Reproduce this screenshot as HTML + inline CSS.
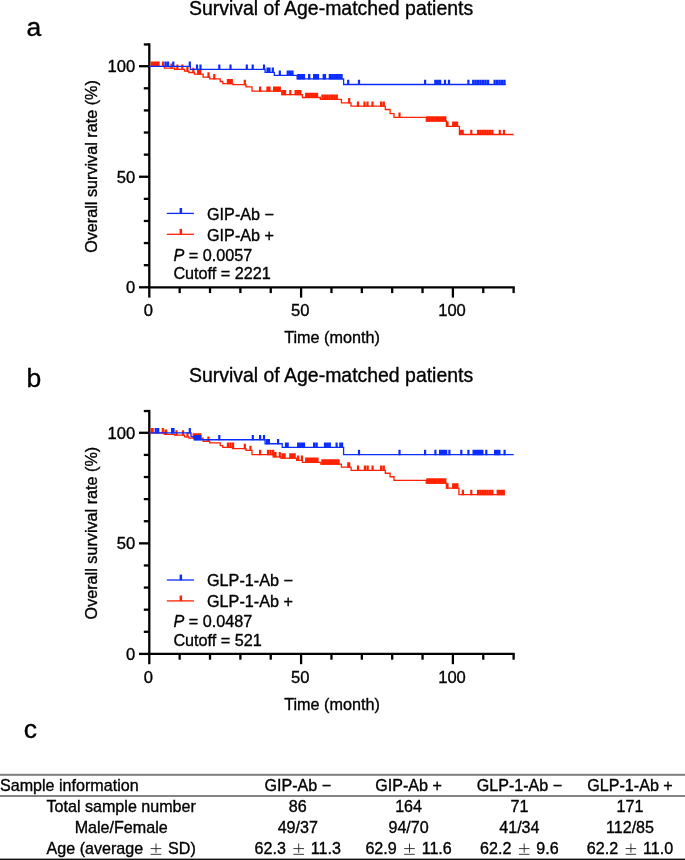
<!DOCTYPE html>
<html><head><meta charset="utf-8"><style>
html,body{margin:0;padding:0;background:#fff;}
body{width:685px;height:860px;overflow:hidden;}
svg{display:block;font-family:"Liberation Sans", sans-serif;}
text{fill:#000;stroke:#000;stroke-width:0.35px;}
</style></head><body>
<svg width="685" height="860" viewBox="0 0 685 860">
<defs><filter id="gs" x="0" y="0" width="685" height="860" filterUnits="userSpaceOnUse"><feColorMatrix type="saturate" values="0"/></filter></defs>
<line x1="149.3" y1="43.28999999999998" x2="149.3" y2="297.6" stroke="#000" stroke-width="2.3" fill="none"/>
<line x1="139.0" y1="287.3" x2="149.3" y2="287.3" stroke="#000" stroke-width="2.3" fill="none"/>
<line x1="143.8" y1="265.19" x2="149.3" y2="265.19" stroke="#000" stroke-width="2.3" fill="none"/>
<line x1="143.8" y1="243.08" x2="149.3" y2="243.08" stroke="#000" stroke-width="2.3" fill="none"/>
<line x1="143.8" y1="220.97" x2="149.3" y2="220.97" stroke="#000" stroke-width="2.3" fill="none"/>
<line x1="143.8" y1="198.86" x2="149.3" y2="198.86" stroke="#000" stroke-width="2.3" fill="none"/>
<line x1="139.0" y1="176.75" x2="149.3" y2="176.75" stroke="#000" stroke-width="2.3" fill="none"/>
<line x1="143.8" y1="154.64" x2="149.3" y2="154.64" stroke="#000" stroke-width="2.3" fill="none"/>
<line x1="143.8" y1="132.53" x2="149.3" y2="132.53" stroke="#000" stroke-width="2.3" fill="none"/>
<line x1="143.8" y1="110.41999999999999" x2="149.3" y2="110.41999999999999" stroke="#000" stroke-width="2.3" fill="none"/>
<line x1="143.8" y1="88.30999999999997" x2="149.3" y2="88.30999999999997" stroke="#000" stroke-width="2.3" fill="none"/>
<line x1="139.0" y1="66.19999999999999" x2="149.3" y2="66.19999999999999" stroke="#000" stroke-width="2.3" fill="none"/>
<line x1="143.8" y1="44.439999999999976" x2="149.3" y2="44.439999999999976" stroke="#000" stroke-width="2.3" fill="none"/>
<line x1="149.3" y1="287.3" x2="514.72" y2="287.3" stroke="#000" stroke-width="2.3" fill="none"/>
<line x1="179.66000000000003" y1="287.3" x2="179.66000000000003" y2="293.1" stroke="#000" stroke-width="2.3" fill="none"/>
<line x1="210.02" y1="287.3" x2="210.02" y2="293.1" stroke="#000" stroke-width="2.3" fill="none"/>
<line x1="240.38" y1="287.3" x2="240.38" y2="293.1" stroke="#000" stroke-width="2.3" fill="none"/>
<line x1="270.74" y1="287.3" x2="270.74" y2="293.1" stroke="#000" stroke-width="2.3" fill="none"/>
<line x1="301.1" y1="287.3" x2="301.1" y2="297.6" stroke="#000" stroke-width="2.3" fill="none"/>
<line x1="331.46000000000004" y1="287.3" x2="331.46000000000004" y2="293.1" stroke="#000" stroke-width="2.3" fill="none"/>
<line x1="361.82000000000005" y1="287.3" x2="361.82000000000005" y2="293.1" stroke="#000" stroke-width="2.3" fill="none"/>
<line x1="392.18" y1="287.3" x2="392.18" y2="293.1" stroke="#000" stroke-width="2.3" fill="none"/>
<line x1="422.54" y1="287.3" x2="422.54" y2="293.1" stroke="#000" stroke-width="2.3" fill="none"/>
<line x1="452.90000000000003" y1="287.3" x2="452.90000000000003" y2="297.6" stroke="#000" stroke-width="2.3" fill="none"/>
<line x1="483.26" y1="287.3" x2="483.26" y2="293.1" stroke="#000" stroke-width="2.3" fill="none"/>
<line x1="513.62" y1="287.3" x2="513.62" y2="293.1" stroke="#000" stroke-width="2.3" fill="none"/>
<line x1="166.8" y1="213.4" x2="193.9" y2="213.4" stroke="#0a2cff" stroke-width="1.3"/>
<rect x="179.6" y="208.00" width="2.5" height="5.6" fill="#0a2cff"/>
<line x1="166.8" y1="234.3" x2="193.9" y2="234.3" stroke="#ff2200" stroke-width="1.3"/>
<rect x="179.6" y="228.90" width="2.5" height="5.6" fill="#ff2200"/>
<path d="M149.5,66.4 H164.4 V68.18 H174.6 V69.28 H184.5 V71.08 H188.9 V72.48 H194.4 V74.08 H203.1 V77.08 H209.7 V78.88 H220.2 V81.48 H222.8 V83.68 H232.9 V84.58 H246 V86.78 H252 V91.18 H281.8 V94.68 H302.4 V97.48 H320.4 V99.38 H341.4 V102.88 H351 V106.18 H385.3 V109.48 H390.1 V113.58 H394 V117.28 H426.3 V120.98 H446.4 V126.28 H459.4 V134.48 H513.7" stroke="#ff2200" stroke-width="1.3" fill="none"/>
<path d="M150.60,61.60H152.90V67.00H150.60ZM152.87,61.60H155.17V67.00H152.87ZM155.13,61.60H157.43V67.00H155.13ZM157.40,61.60H159.70V67.00H157.40ZM161.90,61.60H164.10V67.00H161.90ZM170.40,63.38H172.60V68.78H170.40ZM176.30,64.48H178.50V69.88H176.30ZM181.20,64.48H183.40V69.88H181.20ZM186.30,66.28H188.50V71.68H186.30ZM192.20,67.68H194.40V73.08H192.20ZM197.00,69.28H199.30V74.68H197.00ZM199.10,69.28H201.40V74.68H199.10ZM207.40,72.28H209.60V77.68H207.40ZM213.20,74.08H215.40V79.48H213.20ZM226.80,78.88H229.10V84.28H226.80ZM228.70,78.88H231.00V84.28H228.70ZM230.60,78.88H232.90V84.28H230.60ZM243.70,79.78H245.90V85.18H243.70ZM259.00,86.38H261.20V91.78H259.00ZM266.40,86.38H268.60V91.78H266.40ZM268.40,86.38H270.60V91.78H268.40ZM273.00,86.38H275.30V91.78H273.00ZM274.87,86.38H277.17V91.78H274.87ZM276.73,86.38H279.03V91.78H276.73ZM278.60,86.38H280.90V91.78H278.60ZM281.80,89.88H284.10V95.28H281.80ZM283.90,89.88H286.20V95.28H283.90ZM289.20,89.88H291.40V95.28H289.20ZM294.50,89.88H296.80V95.28H294.50ZM296.85,89.88H299.15V95.28H296.85ZM299.20,89.88H301.50V95.28H299.20ZM305.10,92.68H307.40V98.08H305.10ZM307.26,92.68H309.56V98.08H307.26ZM309.42,92.68H311.72V98.08H309.42ZM311.58,92.68H313.88V98.08H311.58ZM313.74,92.68H316.04V98.08H313.74ZM315.90,92.68H318.20V98.08H315.90ZM321.30,94.58H323.60V99.98H321.30ZM323.68,94.58H325.98V99.98H323.68ZM326.07,94.58H328.37V99.98H326.07ZM328.45,94.58H330.75V99.98H328.45ZM330.83,94.58H333.13V99.98H330.83ZM333.22,94.58H335.52V99.98H333.22ZM335.60,94.58H337.90V99.98H335.60ZM348.10,98.08H350.30V103.48H348.10ZM356.90,101.38H359.10V106.78H356.90ZM363.40,101.38H365.60V106.78H363.40ZM366.40,101.38H368.60V106.78H366.40ZM371.40,101.38H373.60V106.78H371.40ZM380.00,101.38H382.30V106.78H380.00ZM382.60,101.38H384.90V106.78H382.60ZM398.40,112.48H400.60V117.88H398.40ZM426.30,116.18H428.60V121.58H426.30ZM428.53,116.18H430.82V121.58H428.53ZM430.75,116.18H433.05V121.58H430.75ZM432.98,116.18H435.27V121.58H432.98ZM435.20,116.18H437.50V121.58H435.20ZM437.43,116.18H439.72V121.58H437.43ZM439.65,116.18H441.95V121.58H439.65ZM441.88,116.18H444.17V121.58H441.88ZM444.10,116.18H446.40V121.58H444.10ZM446.40,121.48H448.60V126.88H446.40ZM452.10,121.48H454.40V126.88H452.10ZM454.00,121.48H456.30V126.88H454.00ZM455.90,121.48H458.20V126.88H455.90ZM459.40,129.68H461.70V135.08H459.40ZM461.50,129.68H463.80V135.08H461.50ZM470.20,129.68H472.40V135.08H470.20ZM476.90,129.68H479.20V135.08H476.90ZM479.28,129.68H481.58V135.08H479.28ZM481.67,129.68H483.97V135.08H481.67ZM484.05,129.68H486.35V135.08H484.05ZM486.43,129.68H488.73V135.08H486.43ZM488.82,129.68H491.12V135.08H488.82ZM491.20,129.68H493.50V135.08H491.20ZM498.70,129.68H500.90V135.08H498.70ZM502.90,129.68H505.10V135.08H502.90Z" fill="#ff2200"/>
<path d="M149.5,66.4 H190.3 V69.28 H265.1 V72.38 H274.3 V75.38 H297.1 V78.88 H343.6 V84.48 H505.6" stroke="#0a2cff" stroke-width="1.3" fill="none"/>
<path d="M164.40,61.60H166.70V67.00H164.40ZM166.90,61.60H169.20V67.00H166.90ZM172.20,61.60H174.40V67.00H172.20ZM188.70,61.60H190.90V67.00H188.70ZM195.90,64.48H198.10V69.88H195.90ZM199.40,64.48H201.60V69.88H199.40ZM218.20,64.48H220.40V69.88H218.20ZM229.40,64.48H231.60V69.88H229.40ZM245.70,64.48H247.90V69.88H245.70ZM251.60,64.48H253.80V69.88H251.60ZM262.90,64.48H265.10V69.88H262.90ZM266.40,67.58H268.60V72.98H266.40ZM268.40,67.58H270.60V72.98H268.40ZM271.70,67.58H273.90V72.98H271.70ZM278.70,70.58H280.90V75.98H278.70ZM286.60,70.58H288.90V75.98H286.60ZM288.95,70.58H291.25V75.98H288.95ZM291.30,70.58H293.60V75.98H291.30ZM297.20,74.08H299.50V79.48H297.20ZM299.07,74.08H301.37V79.48H299.07ZM300.93,74.08H303.23V79.48H300.93ZM302.80,74.08H305.10V79.48H302.80ZM308.10,74.08H310.40V79.48H308.10ZM308.00,74.08H310.30V79.48H308.00ZM313.00,74.08H315.30V79.48H313.00ZM314.90,74.08H317.20V79.48H314.90ZM316.80,74.08H319.10V79.48H316.80ZM322.60,74.08H324.90V79.48H322.60ZM323.80,74.08H326.10V79.48H323.80ZM328.70,74.08H331.00V79.48H328.70ZM331.04,74.08H333.34V79.48H331.04ZM333.38,74.08H335.68V79.48H333.38ZM335.72,74.08H338.02V79.48H335.72ZM338.06,74.08H340.36V79.48H338.06ZM340.40,74.08H342.70V79.48H340.40ZM347.10,79.68H349.30V85.08H347.10ZM357.90,79.68H360.10V85.08H357.90ZM424.00,79.68H426.20V85.08H424.00ZM434.20,79.68H436.50V85.08H434.20ZM436.55,79.68H438.85V85.08H436.55ZM438.90,79.68H441.20V85.08H438.90ZM443.90,79.68H446.10V85.08H443.90ZM447.90,79.68H450.10V85.08H447.90ZM467.30,79.68H469.50V85.08H467.30ZM472.10,79.68H474.40V85.08H472.10ZM474.57,79.68H476.87V85.08H474.57ZM477.03,79.68H479.33V85.08H477.03ZM479.50,79.68H481.80V85.08H479.50ZM481.97,79.68H484.27V85.08H481.97ZM484.43,79.68H486.73V85.08H484.43ZM486.90,79.68H489.20V85.08H486.90ZM493.50,79.68H495.80V85.08H493.50ZM495.95,79.68H498.25V85.08H495.95ZM498.40,79.68H500.70V85.08H498.40ZM500.85,79.68H503.15V85.08H500.85ZM503.30,79.68H505.60V85.08H503.30Z" fill="#0a2cff"/>
<line x1="149.3" y1="409.89" x2="149.3" y2="664.2" stroke="#000" stroke-width="2.3" fill="none"/>
<line x1="139.0" y1="653.9000000000001" x2="149.3" y2="653.9000000000001" stroke="#000" stroke-width="2.3" fill="none"/>
<line x1="143.8" y1="631.7900000000001" x2="149.3" y2="631.7900000000001" stroke="#000" stroke-width="2.3" fill="none"/>
<line x1="143.8" y1="609.6800000000001" x2="149.3" y2="609.6800000000001" stroke="#000" stroke-width="2.3" fill="none"/>
<line x1="143.8" y1="587.57" x2="149.3" y2="587.57" stroke="#000" stroke-width="2.3" fill="none"/>
<line x1="143.8" y1="565.46" x2="149.3" y2="565.46" stroke="#000" stroke-width="2.3" fill="none"/>
<line x1="139.0" y1="543.35" x2="149.3" y2="543.35" stroke="#000" stroke-width="2.3" fill="none"/>
<line x1="143.8" y1="521.24" x2="149.3" y2="521.24" stroke="#000" stroke-width="2.3" fill="none"/>
<line x1="143.8" y1="499.13000000000005" x2="149.3" y2="499.13000000000005" stroke="#000" stroke-width="2.3" fill="none"/>
<line x1="143.8" y1="477.02000000000004" x2="149.3" y2="477.02000000000004" stroke="#000" stroke-width="2.3" fill="none"/>
<line x1="143.8" y1="454.91" x2="149.3" y2="454.91" stroke="#000" stroke-width="2.3" fill="none"/>
<line x1="139.0" y1="432.8" x2="149.3" y2="432.8" stroke="#000" stroke-width="2.3" fill="none"/>
<line x1="143.8" y1="411.04" x2="149.3" y2="411.04" stroke="#000" stroke-width="2.3" fill="none"/>
<line x1="149.3" y1="653.9000000000001" x2="514.72" y2="653.9000000000001" stroke="#000" stroke-width="2.3" fill="none"/>
<line x1="179.66000000000003" y1="653.9000000000001" x2="179.66000000000003" y2="659.7" stroke="#000" stroke-width="2.3" fill="none"/>
<line x1="210.02" y1="653.9000000000001" x2="210.02" y2="659.7" stroke="#000" stroke-width="2.3" fill="none"/>
<line x1="240.38" y1="653.9000000000001" x2="240.38" y2="659.7" stroke="#000" stroke-width="2.3" fill="none"/>
<line x1="270.74" y1="653.9000000000001" x2="270.74" y2="659.7" stroke="#000" stroke-width="2.3" fill="none"/>
<line x1="301.1" y1="653.9000000000001" x2="301.1" y2="664.2" stroke="#000" stroke-width="2.3" fill="none"/>
<line x1="331.46000000000004" y1="653.9000000000001" x2="331.46000000000004" y2="659.7" stroke="#000" stroke-width="2.3" fill="none"/>
<line x1="361.82000000000005" y1="653.9000000000001" x2="361.82000000000005" y2="659.7" stroke="#000" stroke-width="2.3" fill="none"/>
<line x1="392.18" y1="653.9000000000001" x2="392.18" y2="659.7" stroke="#000" stroke-width="2.3" fill="none"/>
<line x1="422.54" y1="653.9000000000001" x2="422.54" y2="659.7" stroke="#000" stroke-width="2.3" fill="none"/>
<line x1="452.90000000000003" y1="653.9000000000001" x2="452.90000000000003" y2="664.2" stroke="#000" stroke-width="2.3" fill="none"/>
<line x1="483.26" y1="653.9000000000001" x2="483.26" y2="659.7" stroke="#000" stroke-width="2.3" fill="none"/>
<line x1="513.62" y1="653.9000000000001" x2="513.62" y2="659.7" stroke="#000" stroke-width="2.3" fill="none"/>
<line x1="166.8" y1="580.0" x2="193.9" y2="580.0" stroke="#0a2cff" stroke-width="1.3"/>
<rect x="179.6" y="574.60" width="2.5" height="5.6" fill="#0a2cff"/>
<line x1="166.8" y1="600.9" x2="193.9" y2="600.9" stroke="#ff2200" stroke-width="1.3"/>
<rect x="179.6" y="595.50" width="2.5" height="5.6" fill="#ff2200"/>
<path d="M149.5,432.8 H164.4 V434.35 H174.6 V435.15 H184.5 V436.95000000000005 H188.9 V438.15 H203.1 V441.25 H209.7 V442.85 H220.2 V445.65 H222.8 V447.35 H232.5 V448.65 H246 V450.45000000000005 H252 V454.65 H274.3 V456.85 H280.9 V458.15 H296.7 V460.35 H302.4 V462.35 H320.8 V464.04999999999995 H341.4 V467.15 H351.1 V470.35 H385.3 V473.25 H390.1 V476.75 H394 V480.45000000000005 H426.3 V483.04999999999995 H446.4 V488.15 H458.9 V494.65 H504.9" stroke="#ff2200" stroke-width="1.3" fill="none"/>
<path d="M150.60,428.00H152.90V433.40H150.60ZM151.50,428.00H153.80V433.40H151.50ZM161.70,428.00H163.90V433.40H161.70ZM164.40,429.55H166.70V434.95H164.40ZM165.00,429.55H167.30V434.95H165.00ZM175.40,430.35H177.60V435.75H175.40ZM181.90,430.35H184.10V435.75H181.90ZM186.40,432.15H188.60V437.55H186.40ZM192.60,433.35H194.90V438.75H192.60ZM194.77,433.35H197.07V438.75H194.77ZM196.93,433.35H199.23V438.75H196.93ZM199.10,433.35H201.40V438.75H199.10ZM207.30,436.45H209.50V441.85H207.30ZM226.80,442.55H229.10V447.95H226.80ZM229.35,442.55H231.65V447.95H229.35ZM231.90,442.55H234.20V447.95H231.90ZM243.70,443.85H245.90V449.25H243.70ZM249.40,445.65H251.60V451.05H249.40ZM259.00,449.85H261.20V455.25H259.00ZM266.90,449.85H269.20V455.25H266.90ZM269.45,449.85H271.75V455.25H269.45ZM272.00,449.85H274.30V455.25H272.00ZM274.30,452.05H276.60V457.45H274.30ZM272.50,452.05H274.80V457.45H272.50ZM278.70,452.05H280.90V457.45H278.70ZM281.30,453.35H283.60V458.75H281.30ZM283.40,453.35H285.70V458.75H283.40ZM289.20,453.35H291.50V458.75H289.20ZM291.35,453.35H293.65V458.75H291.35ZM293.50,453.35H295.80V458.75H293.50ZM297.10,455.55H299.30V460.95H297.10ZM300.80,455.55H303.00V460.95H300.80ZM305.10,457.55H307.40V462.95H305.10ZM307.34,457.55H309.64V462.95H307.34ZM309.58,457.55H311.88V462.95H309.58ZM311.82,457.55H314.12V462.95H311.82ZM314.06,457.55H316.36V462.95H314.06ZM316.30,457.55H318.60V462.95H316.30ZM321.30,459.25H323.60V464.65H321.30ZM323.60,459.25H325.90V464.65H323.60ZM325.90,459.25H328.20V464.65H325.90ZM328.20,459.25H330.50V464.65H328.20ZM330.50,459.25H332.80V464.65H330.50ZM332.80,459.25H335.10V464.65H332.80ZM335.10,459.25H337.40V464.65H335.10ZM337.40,459.25H339.70V464.65H337.40ZM347.20,462.35H349.50V467.75H347.20ZM348.00,462.35H350.30V467.75H348.00ZM356.90,465.55H359.10V470.95H356.90ZM363.80,465.55H366.10V470.95H363.80ZM366.50,465.55H368.80V470.95H366.50ZM371.50,465.55H373.70V470.95H371.50ZM380.00,465.55H382.30V470.95H380.00ZM382.60,465.55H384.90V470.95H382.60ZM426.30,478.25H428.60V483.65H426.30ZM428.53,478.25H430.82V483.65H428.53ZM430.75,478.25H433.05V483.65H430.75ZM432.98,478.25H435.27V483.65H432.98ZM435.20,478.25H437.50V483.65H435.20ZM437.43,478.25H439.72V483.65H437.43ZM439.65,478.25H441.95V483.65H439.65ZM441.88,478.25H444.17V483.65H441.88ZM444.10,478.25H446.40V483.65H444.10ZM446.40,483.35H448.60V488.75H446.40ZM452.10,483.35H454.40V488.75H452.10ZM454.15,483.35H456.45V488.75H454.15ZM456.20,483.35H458.50V488.75H456.20ZM461.80,489.85H464.00V495.25H461.80ZM470.20,489.85H472.40V495.25H470.20ZM476.90,489.85H479.20V495.25H476.90ZM479.28,489.85H481.58V495.25H479.28ZM481.67,489.85H483.97V495.25H481.67ZM484.05,489.85H486.35V495.25H484.05ZM486.43,489.85H488.73V495.25H486.43ZM488.82,489.85H491.12V495.25H488.82ZM491.20,489.85H493.50V495.25H491.20ZM496.60,489.85H498.90V495.25H496.60ZM498.60,489.85H500.90V495.25H498.60ZM500.60,489.85H502.90V495.25H500.60ZM502.60,489.85H504.90V495.25H502.60Z" fill="#ff2200"/>
<path d="M149.5,432.8 H191 V436.65 H194.2 V439.75 H265.1 V443.75 H282.2 V447.35 H343.6 V454.65 H513.7" stroke="#0a2cff" stroke-width="1.3" fill="none"/>
<path d="M154.60,428.00H156.90V433.40H154.60ZM157.00,428.00H159.30V433.40H157.00ZM171.00,428.00H173.30V433.40H171.00ZM172.30,428.00H174.60V433.40H172.30ZM188.70,428.00H190.90V433.40H188.70ZM194.40,434.95H196.70V440.35H194.40ZM196.75,434.95H199.05V440.35H196.75ZM199.10,434.95H201.40V440.35H199.10ZM218.20,434.95H220.40V440.35H218.20ZM251.70,434.95H253.90V440.35H251.70ZM259.00,434.95H261.20V440.35H259.00ZM262.90,434.95H265.10V440.35H262.90ZM266.00,438.95H268.30V444.35H266.00ZM267.70,438.95H270.00V444.35H267.70ZM277.00,438.95H279.20V444.35H277.00ZM284.90,442.55H287.20V447.95H284.90ZM286.50,442.55H288.80V447.95H286.50ZM297.10,442.55H299.40V447.95H297.10ZM299.00,442.55H301.30V447.95H299.00ZM300.90,442.55H303.20V447.95H300.90ZM302.80,442.55H305.10V447.95H302.80ZM313.00,442.55H315.30V447.95H313.00ZM315.50,442.55H317.80V447.95H315.50ZM323.90,442.55H326.20V447.95H323.90ZM326.25,442.55H328.55V447.95H326.25ZM328.60,442.55H330.90V447.95H328.60ZM335.50,442.55H337.70V447.95H335.50ZM339.20,442.55H341.50V447.95H339.20ZM340.90,442.55H343.20V447.95H340.90ZM357.90,449.85H360.10V455.25H357.90ZM398.40,449.85H400.60V455.25H398.40ZM424.00,449.85H426.20V455.25H424.00ZM434.30,449.85H436.50V455.25H434.30ZM439.00,449.85H441.30V455.25H439.00ZM441.00,449.85H443.30V455.25H441.00ZM443.00,449.85H445.30V455.25H443.00ZM445.00,449.85H447.30V455.25H445.00ZM448.30,449.85H450.50V455.25H448.30ZM460.20,449.85H462.40V455.25H460.20ZM467.30,449.85H469.50V455.25H467.30ZM472.50,449.85H474.80V455.25H472.50ZM474.68,449.85H476.97V455.25H474.68ZM476.85,449.85H479.15V455.25H476.85ZM479.02,449.85H481.32V455.25H479.02ZM481.20,449.85H483.50V455.25H481.20ZM485.20,449.85H487.40V455.25H485.20ZM494.00,449.85H496.30V455.25H494.00ZM496.10,449.85H498.40V455.25H496.10ZM498.20,449.85H500.50V455.25H498.20ZM503.50,449.85H505.70V455.25H503.50Z" fill="#0a2cff"/>
<rect x="0" y="773.8" width="685" height="2" fill="#7f7f7f"/>
<rect x="0" y="795" width="685" height="2" fill="#858585"/>
<rect x="0" y="858.6" width="685" height="1.4" fill="#111"/>
<path d="M150.67,848.6H161.27M155.97,843.5V852.6999999999999M150.67,854.3H161.27" stroke="#222" stroke-width="0.9" fill="none"/>
<path d="M293.4,848.6H304.0M298.7,843.5V852.6999999999999M293.4,854.3H304.0" stroke="#222" stroke-width="0.9" fill="none"/>
<path d="M404.2,848.6H414.8M409.5,843.5V852.6999999999999M404.2,854.3H414.8" stroke="#222" stroke-width="0.9" fill="none"/>
<path d="M518.88,848.6H529.4799999999999M524.18,843.5V852.6999999999999M518.88,854.3H529.4799999999999" stroke="#222" stroke-width="0.9" fill="none"/>
<path d="M625.6,848.6H636.1999999999999M630.9,843.5V852.6999999999999M625.6,854.3H636.1999999999999" stroke="#222" stroke-width="0.9" fill="none"/>
<g filter="url(#gs)">
<text x="135.2" y="72.1" font-size="16.6" text-anchor="end" >100</text>
<text x="135.2" y="182.65" font-size="16.6" text-anchor="end" >50</text>
<text x="135.2" y="293.2" font-size="16.6" text-anchor="end" >0</text>
<text x="148.4" y="315.90000000000003" font-size="16.6" text-anchor="middle" >0</text>
<text x="300.20000000000005" y="315.90000000000003" font-size="16.6" text-anchor="middle" >50</text>
<text x="452.00000000000006" y="315.90000000000003" font-size="16.6" text-anchor="middle" >100</text>
<text x="332" y="343.1" font-size="16.2" text-anchor="middle" >Time (month)</text>
<text transform="translate(97.4,166.5) rotate(-90)" font-size="16.2" text-anchor="middle">Overall survival rate (%)</text>
<text x="331.1" y="15.4" font-size="19.45" text-anchor="middle" >Survival of Age-matched patients</text>
<text x="207.0" y="219.8" font-size="16.2" text-anchor="start" >GIP-Ab −</text>
<text x="207.0" y="240.70000000000002" font-size="16.2" text-anchor="start" >GIP-Ab +</text>
<text x="173.4" y="260.5" font-size="16.2" text-anchor="start" ><tspan font-style="italic">P</tspan> = 0.0057</text>
<text x="173.4" y="278.9" font-size="16.2" text-anchor="start" >Cutoff = 2221</text>
<text x="135.2" y="438.7" font-size="16.6" text-anchor="end" >100</text>
<text x="135.2" y="549.25" font-size="16.6" text-anchor="end" >50</text>
<text x="135.2" y="659.8000000000001" font-size="16.6" text-anchor="end" >0</text>
<text x="148.4" y="682.5000000000001" font-size="16.6" text-anchor="middle" >0</text>
<text x="300.20000000000005" y="682.5000000000001" font-size="16.6" text-anchor="middle" >50</text>
<text x="452.00000000000006" y="682.5000000000001" font-size="16.6" text-anchor="middle" >100</text>
<text x="332" y="709.7" font-size="16.2" text-anchor="middle" >Time (month)</text>
<text transform="translate(97.4,533.1) rotate(-90)" font-size="16.2" text-anchor="middle">Overall survival rate (%)</text>
<text x="331.1" y="382.0" font-size="19.45" text-anchor="middle" >Survival of Age-matched patients</text>
<text x="207.0" y="586.4" font-size="16.2" text-anchor="start" >GLP-1-Ab −</text>
<text x="207.0" y="607.3" font-size="16.2" text-anchor="start" >GLP-1-Ab +</text>
<text x="173.4" y="627.1" font-size="16.2" text-anchor="start" ><tspan font-style="italic">P</tspan> = 0.0487</text>
<text x="173.4" y="645.5" font-size="16.2" text-anchor="start" >Cutoff = 521</text>
<text x="26.4" y="36" font-size="26.5" text-anchor="start" >a</text>
<text x="26.6" y="387" font-size="26.5" text-anchor="start" >b</text>
<text x="23.8" y="737.6" font-size="26.5" text-anchor="start" >c</text>
<text x="0" y="790.6" font-size="16.1" text-anchor="start" >Sample information</text>
<text x="297.8" y="790.6" font-size="16.1" text-anchor="middle" >GIP-Ab −</text>
<text x="408.6" y="790.6" font-size="16.1" text-anchor="middle" >GIP-Ab +</text>
<text x="519.4" y="790.6" font-size="16.1" text-anchor="middle" >GLP-1-Ab −</text>
<text x="630" y="790.6" font-size="16.1" text-anchor="middle" >GLP-1-Ab +</text>
<text x="121.2" y="812.0" font-size="16.1" text-anchor="middle" >Total sample number</text>
<text x="297.8" y="812.0" font-size="16.1" text-anchor="middle" >86</text>
<text x="408.6" y="812.0" font-size="16.1" text-anchor="middle" >164</text>
<text x="519.4" y="812.0" font-size="16.1" text-anchor="middle" >71</text>
<text x="630" y="812.0" font-size="16.1" text-anchor="middle" >171</text>
<text x="121.2" y="833.2" font-size="16.1" text-anchor="middle" >Male/Female</text>
<text x="297.8" y="833.2" font-size="16.1" text-anchor="middle" >49/37</text>
<text x="408.6" y="833.2" font-size="16.1" text-anchor="middle" >94/70</text>
<text x="519.4" y="833.2" font-size="16.1" text-anchor="middle" >41/34</text>
<text x="630" y="833.2" font-size="16.1" text-anchor="middle" >112/85</text>
<text x="143.22" y="854.4" font-size="16.1" text-anchor="end" >Age (average</text>
<text x="168.12" y="854.4" font-size="16.1" text-anchor="start" >SD)</text>
<text x="285.95" y="854.4" font-size="16.1" text-anchor="end" >62.3</text>
<text x="310.85" y="854.4" font-size="16.1" text-anchor="start" >11.3</text>
<text x="396.75" y="854.4" font-size="16.1" text-anchor="end" >62.9</text>
<text x="421.65" y="854.4" font-size="16.1" text-anchor="start" >11.6</text>
<text x="511.43" y="854.4" font-size="16.1" text-anchor="end" >62.2</text>
<text x="536.33" y="854.4" font-size="16.1" text-anchor="start" >9.6</text>
<text x="618.15" y="854.4" font-size="16.1" text-anchor="end" >62.2</text>
<text x="643.05" y="854.4" font-size="16.1" text-anchor="start" >11.0</text>
</g>
</svg>
</body></html>
